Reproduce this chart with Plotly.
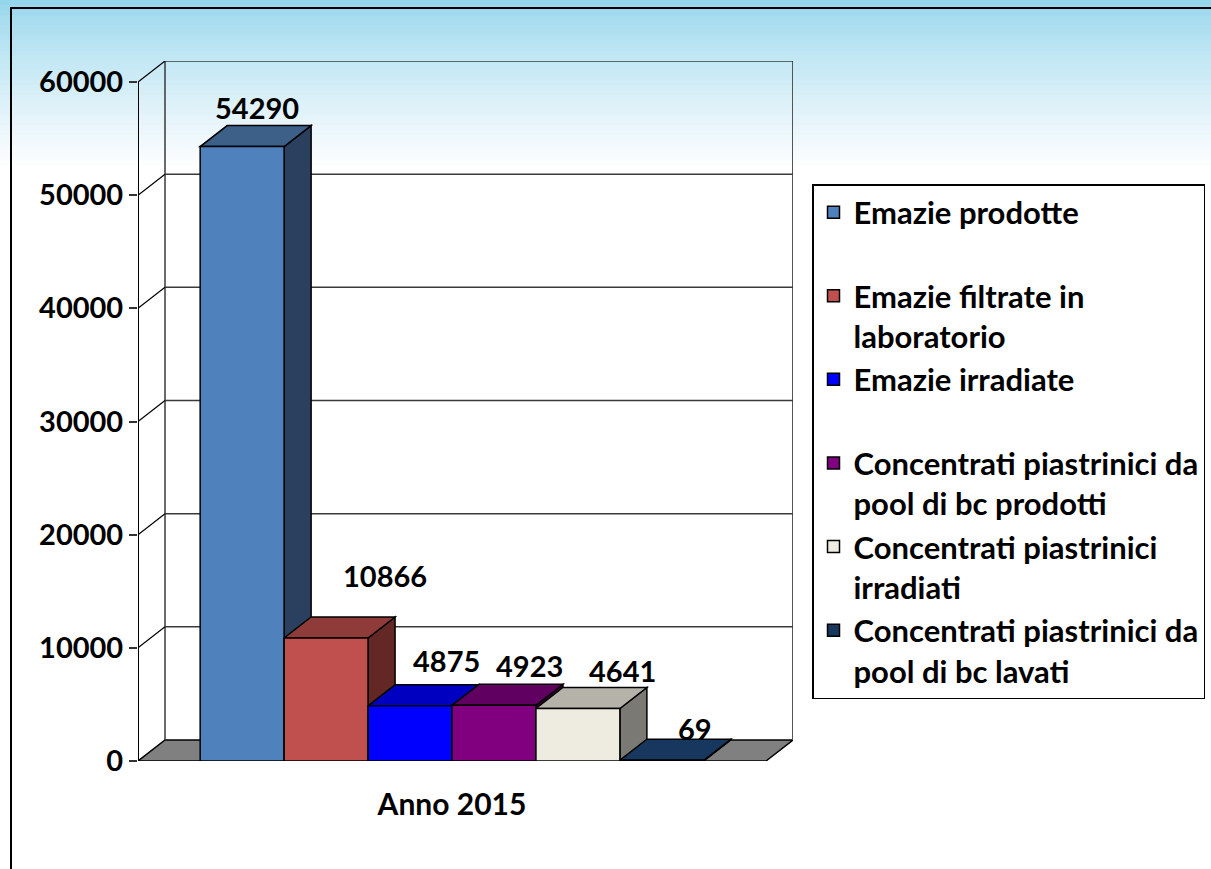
import plotly.graph_objects as go

# ---------------- data ----------------
category = ["Anno 2015"]
series_names = [
    "Emazie prodotte",
    "Emazie filtrate in laboratorio",
    "Emazie irradiate",
    "Concentrati piastrinici da pool di bc prodotti",
    "Concentrati piastrinici irradiati",
    "Concentrati piastrinici da pool di bc lavati",
]
legend_labels = [
    "Emazie prodotte<br>\u00a0",
    "Emazie filtrate in<br>laboratorio",
    "Emazie irradiate<br>\u00a0",
    "Concentrati piastrinici da<br>pool di bc prodotti",
    "Concentrati piastrinici<br>irradiati",
    "Concentrati piastrinici da<br>pool di bc lavati",
]
values = [54290, 10866, 4875, 4923, 4641, 69]
y_ticks = [0, 10000, 20000, 30000, 40000, 50000, 60000]

# ---------------- styles ----------------
front_colors = ["#4f81bd", "#c0504d", "#0000ff", "#800080", "#eeece1", "#17375e"]
top_colors = ["#3c6088", "#8e3b39", "#0000c0", "#600060", "#b5b2aa", "#17375e"]
side_colors = ["#2a405e", "#632826", "#000080", "#400040", "#7b7974", "#0f2540"]
label_dx = [15, 59, 36, 36, 45, 33]   # px offsets of the value labels
label_dy = [39, 63, 45, 40, 38, 32]

W, H = 1211, 869
FONT = "Lato"
# plot frame in pixels
px_left, px_front_right, px_back_right = 138, 766, 793
px_zero, px_top_back = 761, 61
depth_px_x, depth_px_y = 27, 21

x_per_px = 1.0 / (px_front_right - px_left)
ddx = depth_px_x * x_per_px
ymax_front = 60000
y_per_px = ymax_front / (px_zero - (px_top_back + depth_px_y))
ddy = depth_px_y * y_per_px
bargap = 0.198
n = len(values)
bw = (1 - bargap) / n
x_start = -0.5 + bargap / 2

fig = go.Figure()
for i, (nm, lab, v) in enumerate(zip(series_names, legend_labels, values)):
    fig.add_trace(go.Bar(
        x=category, y=[v], name=lab, legendgroup=str(i),
        marker=dict(color=front_colors[i], line=dict(color="black", width=1.5)),
        hovertext=[nm], hoverinfo="text+y",
    ))

shapes = []
# sky-like background gradient at the top of the page
top_rgb = (150, 214, 236)
steps = 34
for k in range(steps):
    t = k / (steps - 1)
    c = tuple(int(top_rgb[j] + (255 - top_rgb[j]) * t ** 0.8) for j in range(3))
    y0 = k * 5
    shapes.append(dict(type="rect", xref="paper", yref="paper", x0=0, x1=1,
                       y0=1 - (y0 + 6) / H, y1=1 - y0 / H, layer="below",
                       fillcolor="rgb(%d,%d,%d)" % c, line=dict(width=0)))
# outer frame
shapes.append(dict(type="rect", xref="paper", yref="paper", x0=11 / W, x1=1.05,
                   y0=-0.05, y1=1 - 8 / H, layer="below",
                   line=dict(color="black", width=2), fillcolor="rgba(0,0,0,0)"))

xl, xr = -0.5, 0.5
wall_col = "#3a3a3a"
# floor
shapes.append(dict(type="path", xref="x", yref="y", layer="below",
                   path=f"M{xl},0 L{xr},0 L{xr+ddx},{ddy} L{xl+ddx},{ddy} Z",
                   fillcolor="#808080", line=dict(color="black", width=1.5)))
# back wall outline and gridlines
shapes.append(dict(type="line", xref="x", yref="y", layer="below", x0=xl + ddx, x1=xl + ddx,
                   y0=ddy, y1=ymax_front + ddy, line=dict(color=wall_col, width=1.5)))
shapes.append(dict(type="line", xref="x", yref="y", layer="below", x0=xr + ddx, x1=xr + ddx,
                   y0=ddy, y1=ymax_front + ddy, line=dict(color="#555555", width=2)))
for t in y_ticks[1:]:
    shapes.append(dict(type="line", xref="x", yref="y", layer="below", x0=xl + ddx, x1=xr + ddx,
                       y0=t + ddy, y1=t + ddy, line=dict(color=wall_col, width=1.5)))
    shapes.append(dict(type="line", xref="x", yref="y", layer="below", x0=xl, x1=xl + ddx,
                       y0=t, y1=t + ddy, line=dict(color="black", width=1.2)))
# front value axis line
shapes.append(dict(type="line", xref="x", yref="y", layer="below", x0=xl, x1=xl,
                   y0=0, y1=ymax_front, line=dict(color="black", width=2)))
# small ticks below the floor edge
for xx in (xl, xr):
    shapes.append(dict(type="line", xref="x", yref="y", layer="above", x0=xx, x1=xx,
                       y0=0, y1=-9 * y_per_px, line=dict(color="#333333", width=2)))

# 3D faces of bars
for i, v in enumerate(values):
    x0 = x_start + i * bw
    x1 = x0 + bw
    shapes.append(dict(type="path", xref="x", yref="y", layer="below",
                       path=f"M{x1},0 L{x1},{v} L{x1+ddx},{v+ddy} L{x1+ddx},{ddy} Z",
                       fillcolor=side_colors[i], line=dict(color="black", width=1.5)))
    shapes.append(dict(type="path", xref="x", yref="y", layer="below",
                       path=f"M{x0},{v} L{x1},{v} L{x1+ddx},{v+ddy} L{x0+ddx},{v+ddy} Z",
                       fillcolor=top_colors[i], line=dict(color="black", width=1.5)))

annotations = []
for i, v in enumerate(values):
    xc = x_start + (i + 0.5) * bw
    annotations.append(dict(x=xc, y=v, xref="x", yref="y", text=f"{v}", showarrow=False,
                            xanchor="center", yanchor="middle",
                            xshift=label_dx[i], yshift=label_dy[i],
                            font=dict(family=FONT, size=29, color="black", weight="bold")))

fig.update_layout(
    width=W, height=H, autosize=False, margin=dict(l=0, r=0, t=0, b=0, pad=0),
    paper_bgcolor="white", plot_bgcolor="rgba(0,0,0,0)",
    barmode="group", bargap=bargap, bargroupgap=0,
    shapes=shapes, annotations=annotations,
    font=dict(family=FONT, color="black"),
    xaxis=dict(domain=[px_left / W, px_back_right / W], range=[xl, xr + ddx],
               automargin=False,
               showgrid=False, zeroline=False, showline=False, ticks="outside",
               ticklen=17, tickcolor="rgba(0,0,0,0)", fixedrange=True,
               tickfont=dict(family=FONT, size=30, color="black", weight="bold")),
    yaxis=dict(domain=[1 - px_zero / H, 1 - px_top_back / H], range=[0, ymax_front + ddy],
               automargin=False,
               tickvals=y_ticks, ticktext=[str(t) for t in y_ticks],
               showgrid=False, zeroline=False, showline=False, ticks="outside",
               ticklen=8, tickwidth=2, tickcolor="#333333", fixedrange=True,
               tickfont=dict(family=FONT, size=29, color="black", weight="bold")),
    showlegend=True,
    legend=dict(x=812 / W, y=1 - 184 / H, xanchor="left", yanchor="top",
                bgcolor="white", bordercolor="black", borderwidth=1.5,
                font=dict(family=FONT, size=31, color="black", weight="bold"),
                valign="top", tracegroupgap=9, traceorder="normal"),
)

fig.write_html("out.html", post_script="document.body.style.margin='0';",
               config={"displayModeBar": False, "responsive": False})
